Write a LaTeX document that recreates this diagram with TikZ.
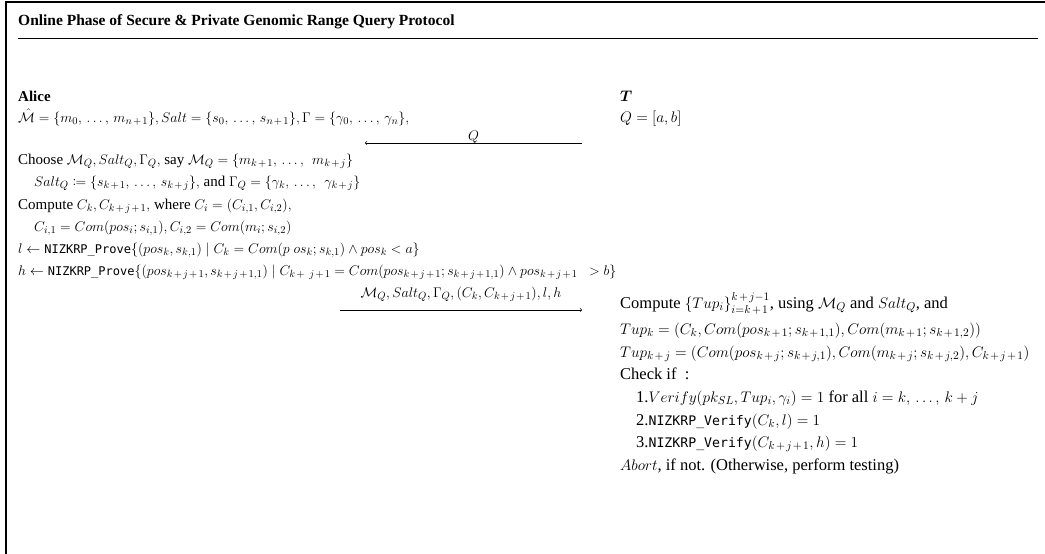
\RequirePackage{fix-cm}
\documentclass[tikz,border=0pt]{standalone}
\usepackage{amsmath,amssymb,mathtools}
\usepackage{fontspec}
\setmainfont{Liberation Serif}
\setmonofont[Scale=0.8]{DejaVu Sans Mono}
% math sizes for the two columns
\DeclareMathSizes{15}{14}{10.5}{8}
\DeclareMathSizes{16.5}{15.3}{11.5}{9}
\newcommand{\nizk}[1]{\texttt{NIZKRP\_#1}}
\newcommand{\pl}{\mkern2mu{+}\mkern2mu}
\newcommand{\dd}{,\mkern3mu\ldots,\mkern3mu}
\begin{document}
\begin{tikzpicture}[x=1pt,y=-1pt,
  txtL/.style={anchor=base west,inner sep=0pt,font=\fontsize{15}{18}\selectfont},
  txtR/.style={anchor=base west,inner sep=0pt,font=\fontsize{16.5}{20}\selectfont},
  lbl/.style={anchor=base,inner sep=0pt,font=\fontsize{15}{18}\selectfont},
  frame/.style={line width=1.1pt},
  msg/.style={->,line width=0.6pt}]
\useasboundingbox (0,0) rectangle (1045,554);
% outer frame and title rule
\draw[frame] (1045,2) -- (6,2) -- (6,554);
\draw[line width=1pt] (18,38) -- (1038,38);
\node[txtL,font=\fontsize{15.5}{18}\selectfont\bfseries] (title) at (18,25)
  {Online Phase of Secure \& Private Genomic Range Query Protocol};
% party headers
\node[txtL,font=\fontsize{15}{18}\selectfont\bfseries] (alice) at (18,101) {Alice};
\node[txtR] (tp) at (620,101) {$\boldsymbol{T}$};
% Alice's inputs and steps
\node[txtL] (a1) at (18,122) {$\hat{\mathcal{M}}=\{m_0\dd m_{n\pl 1}\},Salt=\{s_0\dd s_{n\pl 1}\},\Gamma=\{\gamma_0\dd\gamma_n\},$};
\node[txtR] (t1) at (620,122) {$Q=[a,b]$};
\node[txtL] (a2) at (18,164) {Choose $\mathcal{M}_Q,Salt_Q,\Gamma_Q,$ say $\mathcal{M}_Q=\{m_{k\pl 1}\dd\ m_{k\pl j}\}$};
\node[txtL] (a3) at (34,186) {$Salt_Q\coloneqq\{s_{k\pl 1}\dd s_{k\pl j}\},$ and $\Gamma_Q=\{\gamma_k\dd\ \gamma_{k\pl j}\}$};
\node[txtL] (a4) at (18,209) {Compute $C_k,C_{k\pl j\pl 1},$ where $C_i=(C_{i,1},C_{i,2}),$};
\node[txtL] (a5) at (34,231) {$C_{i,1}=Com(pos_i;s_{i,1}),C_{i,2}=Com(m_i;s_{i,2})$};
\node[txtL] (a6) at (18,253) {$l\leftarrow{}$\nizk{Prove}$\{(pos_k,s_{k,1})\mid C_k=Com(p\ os_k;s_{k,1})\wedge pos_k<a\}$};
\node[txtL] (a7) at (18,275) {$h\leftarrow{}$\nizk{Prove}$\{(pos_{k\pl j\pl 1},s_{k\pl j\pl 1,1})\mid C_{k\pl\ j\pl 1}=Com(pos_{k\pl j\pl 1};s_{k\pl j\pl 1,1})\wedge pos_{k\pl j\pl 1}\ \ >b\}$};
% messages
\coordinate (q1) at (582,143);
\coordinate (q2) at (365,143);
\draw[msg] (q1) -- (q2) node[lbl,pos=0.5,yshift=3pt] (ql) {$Q$};
\coordinate (m1) at (340,310);
\coordinate (m2) at (582,310);
\draw[msg] (m1) -- (m2) node[lbl,pos=0.5,yshift=13pt] (ml) {$\mathcal{M}_Q,Salt_Q,\Gamma_Q,(C_k,C_{k\pl j\pl 1}),l,h$};
% T's verification
\node[txtR] (t2) at (620,308) {Compute $\{Tup_i\}_{i=k\pl 1}^{k\pl j-1}$, using $\mathcal{M}_Q$ and $Salt_Q$, and};
\node[txtR] (t3) at (620,334) {$Tup_k=(C_k,Com(pos_{k\pl 1};s_{k\pl 1,1}),Com(m_{k\pl 1};s_{k\pl 1,2}))$};
\node[txtR] (t4) at (620,357) {$Tup_{k\pl j}=(Com(pos_{k\pl j};s_{k\pl j,1}),Com(m_{k\pl j};s_{k\pl j,2}),C_{k\pl j\pl 1})$};
\node[txtR] (t5) at (620,379) {Check if\ \ :};
\node[txtR] (t6) at (636,402) {1.$Verify(pk_{SL},Tup_i,\gamma_i)=1$ for all $i=k\dd k+j$};
\node[txtR] (t7) at (636,425) {2.\nizk{Verify}$(C_k,l)=1$};
\node[txtR] (t8) at (636,447) {3.\nizk{Verify}$(C_{k\pl j\pl 1},h)=1$};
\node[txtR] (t9) at (620,470) {$Abort$, if not. (Otherwise, perform testing)};
\end{tikzpicture}
\end{document}
